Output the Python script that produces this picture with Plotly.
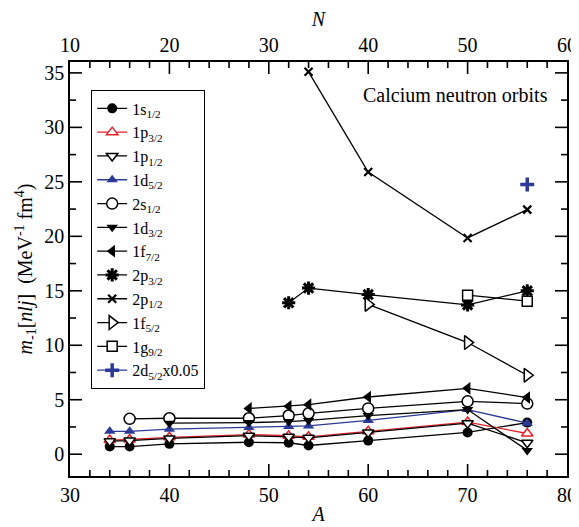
import plotly.graph_objects as go

A = [34, 36, 40, 48, 52, 54, 60, 70, 76]

s1_2 = [0.7, 0.7, 0.95, 1.1, 1.05, 0.8, 1.25, 2.0, 2.9]
p3_2 = [1.3, 1.35, 1.55, 1.8, 1.7, 1.6, 2.1, 2.95, 1.9]
p1_2 = [1.2, 1.25, 1.45, 1.7, 1.6, 1.5, 2.0, 2.85, 1.05]
d5_2 = [2.1, 2.1, 2.3, 2.45, 2.55, 2.6, 3.1, 4.1, 2.85]
s2_1_2 = [None, 3.25, 3.3, 3.3, 3.55, 3.75, 4.2, 4.85, 4.65]
d3_2 = [None, None, 2.85, 2.9, 3.0, 3.1, 3.55, 4.1, 0.35]
f7_2 = [None, None, None, 4.2, 4.4, 4.55, 5.25, 6.05, 5.2]
p2_3_2 = [None, None, None, None, 13.9, 15.25, 14.65, 13.7, 15.0]
p2_1_2 = [None, None, None, None, None, 35.1, 25.9, 19.85, 22.45]
f5_2 = [None, None, None, None, None, None, 13.75, 10.25, 7.25]
g9_2 = [None, None, None, None, None, None, None, 14.6, 14.05]
d2_5_2 = [None, None, None, None, None, None, None, None, 24.75]

A_ticks = [30, 40, 50, 60, 70, 80]
N_ticks = [10, 20, 30, 40, 50, 60]
Y_ticks = [0, 5, 10, 15, 20, 25, 30, 35]
Y_range = [-2, 36]
A_minor = [v for v in range(30, 81, 2) if v % 10]
N_minor = [v for v in range(10, 61, 2) if v % 10]
Y_minor = [-2.5 + 5 * k for k in range(1, 8)]

NAVY = "#2b3a97"
RED = "#e32227"
FONT = "Liberation Serif"

series = [
    ("1s<sub>1/2</sub>", s1_2, dict(symbol="circle", color="black", size=10), "black"),
    ("1p<sub>3/2</sub>", p3_2, dict(symbol="triangle-up", color="white", size=10, line=dict(color=RED, width=1.5)), RED),
    ("1p<sub>1/2</sub>", p1_2, dict(symbol="triangle-down", color="white", size=10, line=dict(color="black", width=1.5)), "black"),
    ("1d<sub>5/2</sub>", d5_2, dict(symbol="triangle-up", color=NAVY, size=10), NAVY),
    ("2s<sub>1/2</sub>", s2_1_2, dict(symbol="circle", color="white", size=11, line=dict(color="black", width=1.5)), "black"),
    ("1d<sub>3/2</sub>", d3_2, dict(symbol="triangle-down", color="black", size=10), "black"),
    ("1f<sub>7/2</sub>", f7_2, dict(symbol="triangle-left", color="black", size=11), "black"),
    ("2p<sub>3/2</sub>", p2_3_2, dict(symbol="asterisk", color="black", size=11, line=dict(color="black", width=3)), "black"),
    ("2p<sub>1/2</sub>", p2_1_2, dict(symbol="x-thin", color="black", size=8, line=dict(color="black", width=2.2)), "black"),
    ("1f<sub>5/2</sub>", f5_2, dict(symbol="triangle-right", color="white", size=12, line=dict(color="black", width=1.5)), "black"),
    ("1g<sub>9/2</sub>", g9_2, dict(symbol="square", color="white", size=10, line=dict(color="black", width=1.5)), "black"),
    ("2d<sub>5/2</sub>x0.05", d2_5_2, dict(symbol="cross-thin", color=NAVY, size=10, line=dict(color=NAVY, width=3.5)), NAVY),
]

W, H = 571, 519
M = dict(l=62, r=12, t=54, b=51)
PX_X = (W - M["l"] - M["r"]) / (A_ticks[-1] - A_ticks[0])   # px per A unit
PX_Y = (H - M["t"] - M["b"]) / (Y_range[1] - Y_range[0])    # px per y unit

fig = go.Figure()


def tick_trace(xs_vals, y_start, y_len, xaxis="x"):
    xs, ys = [], []
    for v in xs_vals:
        xs += [v, v, None]
        ys += [y_start, y_start + y_len, None]
    fig.add_trace(go.Scatter(x=xs, y=ys, xaxis=xaxis, mode="lines", showlegend=False,
                             hoverinfo="skip", line=dict(color="black", width=1.6)))


def ytick_trace(vals, x_start, x_len):
    xs, ys = [], []
    for v in vals:
        xs += [x_start, x_start + x_len, None]
        ys += [v, v, None]
    fig.add_trace(go.Scatter(x=xs, y=ys, mode="lines", showlegend=False,
                             hoverinfo="skip", line=dict(color="black", width=1.6)))


MAJ, MIN = 12, 6
tick_trace(A_ticks[1:-1], Y_range[0], MAJ / PX_Y)
tick_trace(A_minor, Y_range[0], MIN / PX_Y)
tick_trace(N_ticks[1:-1], Y_range[1], -MAJ / PX_Y, "x2")
tick_trace(N_minor, Y_range[1], -MIN / PX_Y, "x2")
ytick_trace(Y_ticks, A_ticks[0], MAJ / PX_X)
ytick_trace(Y_minor, A_ticks[0], MIN / PX_X)
ytick_trace(Y_ticks, A_ticks[-1], -MAJ / PX_X)
ytick_trace(Y_minor, A_ticks[-1], -MIN / PX_X)

for name, vals, mk, lc in series:
    fig.add_trace(go.Scatter(
        x=A, y=vals, name=name, mode="lines+markers",
        line=dict(color=lc, width=1.3), marker=mk, connectgaps=False,
    ))

base = dict(showgrid=False, zeroline=False, showline=True, linecolor="black", linewidth=1.5,
            automargin=False, ticks="", tickfont=dict(family=FONT, size=20, color="black"))

fig.update_layout(
    width=W, height=H,
    margin=M,
    paper_bgcolor="white", plot_bgcolor="white",
    font=dict(family=FONT, size=18, color="black"),
    xaxis=dict(range=[A_ticks[0], A_ticks[-1]], tickvals=A_ticks,
               title=dict(text="<i>A</i>", font=dict(family=FONT, size=20), standoff=2),
               **base),
    xaxis2=dict(range=[N_ticks[0], N_ticks[-1]], tickvals=N_ticks, overlaying="x", side="top", anchor="y",
                title=dict(text="<i>N</i>", font=dict(family=FONT, size=20), standoff=28),
                **base),
    yaxis=dict(range=Y_range, tickvals=Y_ticks, mirror=True,
               title=dict(text="<i>m</i><sub>-1</sub>[<i>nlj</i>]  (MeV<sup>-1</sup> fm<sup>4</sup>)",
                          font=dict(family=FONT, size=20), standoff=6),
               **base),
    legend=dict(x=0.042, y=0.932, xanchor="left", yanchor="top",
                bordercolor="black", borderwidth=1.3, bgcolor="white",
                font=dict(family=FONT, size=16, color="black"),
                tracegroupgap=0, itemwidth=30),
    showlegend=True,
)

fig.add_annotation(text="Calcium neutron orbits", xref="x", yref="y", x=68.8, y=33.0,
                   showarrow=False, font=dict(family=FONT, size=20, color="black"))

fig.write_html("out.html")
